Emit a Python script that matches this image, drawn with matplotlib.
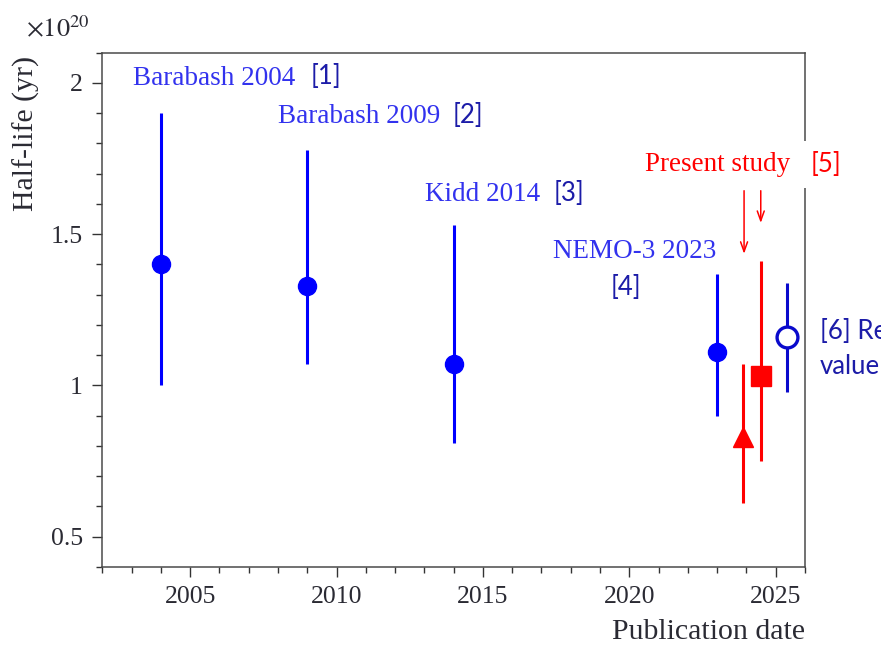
import numpy as np
import matplotlib
matplotlib.use("Agg")
import matplotlib.pyplot as plt
from matplotlib.ticker import MultipleLocator

plt.rcParams['font.family'] = 'Liberation Serif'
plt.rcParams['mathtext.fontset'] = 'stix'

# Previous measurements (half-life in units of 1e20 yr)
ref_years = [2004, 2009, 2014, 2023]
ref_vals = [1.40, 1.33, 1.07, 1.11]
ref_hi = [1.90, 1.78, 1.53, 1.37]
ref_lo = [1.00, 1.07, 0.81, 0.90]
ref_names = ["Barabash 2004", "Barabash 2009", "Kidd 2014", "NEMO-3 2023"]
ref_tags = ["[1]", "[2]", "[3]", "[4]"]

# Present study: two results
present_years = [2023.9, 2024.5]
present_vals = [0.83, 1.03]
present_hi = [1.07, 1.41]
present_lo = [0.61, 0.75]
present_markers = ['^', 's']

# Recommended value
rec_year = 2025.4
rec_val = 1.16
rec_hi = 1.34
rec_lo = 0.98

blue = '#0000ff'
dark_blue = '#0a0acc'
red = '#ff0000'
label_blue = '#3232ee'
tag_blue = '#1c1ca8'
tag_font = 'Lato'


def main():
    fig = plt.figure(figsize=(8.81, 6.46), dpi=100)
    ax = fig.add_axes([0.1161, 0.1223, 0.7976, 0.7961])

    vals = np.array(ref_vals)
    yerr = [vals - np.array(ref_lo), np.array(ref_hi) - vals]
    ax.errorbar(ref_years, vals, yerr=yerr, fmt='o', color=blue,
                ms=13, elinewidth=2.2, capsize=0)

    for yr, v, hi, lo, mk in zip(present_years, present_vals, present_hi,
                                 present_lo, present_markers):
        ax.errorbar([yr], [v], yerr=[[v - lo], [hi - v]], fmt=mk, color=red,
                    ms=14, elinewidth=2.2, capsize=0)

    ax.errorbar([rec_year], [rec_val], yerr=[[rec_val - rec_lo], [rec_hi - rec_val]],
                fmt='o', color=dark_blue, mfc='white', mec=dark_blue, mew=2.4,
                ms=15, elinewidth=2.2, capsize=0)

    # labels for the earlier measurements
    txt = dict(fontsize=19.5, color=label_blue, va='center', ha='left')
    tag = dict(fontsize=18.5, color=tag_blue, va='center', family=tag_font)
    ax.text(2003.05, 2.016, ref_names[0], **txt)
    ax.text(2009.10, 2.023, ref_tags[0], ha='left', **tag)
    ax.text(2008.0, 1.888, ref_names[1], **txt)
    ax.text(2013.95, 1.894, ref_tags[1], ha='left', **tag)
    ax.text(2013.03, 1.630, ref_names[2], **txt)
    ax.text(2017.43, 1.636, ref_tags[2], ha='left', **tag)
    ax.text(2017.40, 1.442, ref_names[3], **txt)
    ax.text(2019.89, 1.323, ref_tags[3], ha='center', **tag)

    ax.text(2020.54, 1.729, "Present study", fontsize=19.5, color=red,
            va='center', ha='left')
    ax.text(2026.2, 1.729, "[5]", fontsize=18.5, color=red, va='center',
            ha='left', family=tag_font,
            bbox=dict(facecolor='white', edgecolor='none', pad=8))
    ax.text(2026.5, 1.119, "[6] Recommended\nvalue", fontsize=18.5,
            color=tag_blue, va='center', ha='left', family=tag_font,
            linespacing=1.5,
            bbox=dict(facecolor='white', edgecolor='none', pad=9))

    arrow = dict(arrowstyle='->,head_length=0.7,head_width=0.25', color=red, lw=1.1)
    ax.annotate('', xy=(2023.92, 1.426), xytext=(2023.92, 1.653), arrowprops=arrow)
    ax.annotate('', xy=(2024.49, 1.528), xytext=(2024.49, 1.653), arrowprops=arrow)

    ax.set_xlim(2002, 2026)
    ax.set_ylim(0.4, 2.1)
    ax.xaxis.set_major_locator(MultipleLocator(5))
    ax.xaxis.set_minor_locator(MultipleLocator(1))
    ax.yaxis.set_major_locator(MultipleLocator(0.5))
    ax.yaxis.set_minor_locator(MultipleLocator(0.1))
    ax.yaxis.set_major_formatter(lambda v, pos: f"{v:g}")

    for s in ax.spines.values():
        s.set_color('#4a4a4a')
        s.set_linewidth(1.1)
    ax.tick_params(which='both', direction='out', top=False, right=False,
                   color='#333333', width=1.0, labelsize=18.5, labelcolor='#2a2a33')
    ax.tick_params(which='major', length=7, pad=7)
    ax.tick_params(which='minor', length=4.5)

    ax.set_xlabel("Publication date", fontsize=21.5, color='#2a2a33',
                  ha='right', va='center')
    ax.xaxis.set_label_coords(1.0, -0.127)
    ax.set_ylabel("Half-life (yr)", fontsize=21.5, color='#2a2a33', va='center')
    ax.yaxis.set_label_coords(-0.108, 0.844)

    fig.text(0.030, 0.943, r"$\times10^{20}$", fontsize=19, color='#2a2a33',
             ha='left', va='baseline')

    fig.savefig("out.png", dpi=100)


if __name__ == '__main__':
    main()
